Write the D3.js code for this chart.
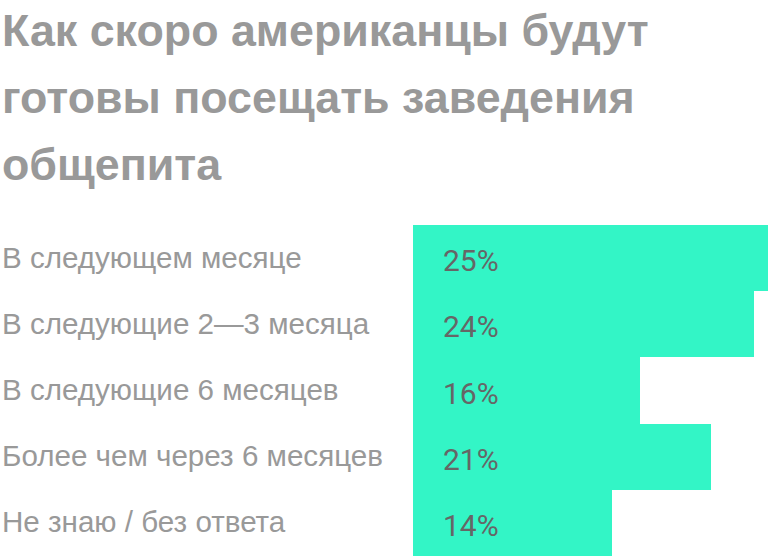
<!DOCTYPE html>
<html>
<head>
<meta charset="utf-8">
<script src="https://cdn.jsdelivr.net/npm/d3@7"></script>
<style>
  html, body { margin: 0; padding: 0; background: #ffffff; }
  svg { display: block; }
</style>
</head>
<body>
<script>
const titleLines = ["Как скоро американцы будут", "готовы посещать заведения", "общепита"];
const categories = ["В следующем месяце", "В следующие 2—3 месяца", "В следующие 6 месяцев", "Более чем через 6 месяцев", "Не знаю / без ответа"];
const values = [25, 24, 16, 21, 14];
const valueLabels = ["25%", "24%", "16%", "21%", "14%"];

const W = 768, H = 556;
const svg = d3.select("body").append("svg").attr("width", W).attr("height", H);

// Title
const titleBaselines = [46, 112.5, 179.5];
const title = svg.append("g").selectAll("text").data(titleLines).join("text")
  .attr("x", 2)
  .attr("y", (d, i) => titleBaselines[i])
  .attr("font-family", "'Liberation Sans', Arial, sans-serif")
  .attr("font-weight", 700)
  .attr("font-size", 36)
  .attr("fill", "#999999")
  .text(d => d);
const t0 = title.node().getComputedTextLength();
title.attr("font-size", 36 * 647 / t0);

// Scales
const x = d3.scaleLinear().domain([0, 25]).range([413, 768]);
const y = d3.scaleBand().domain(categories).range([225, 556]).padding(0);

// Bars
svg.append("g").attr("shape-rendering", "crispEdges")
  .selectAll("rect").data(categories).join("rect")
  .attr("x", x(0))
  .attr("y", d => Math.round(y(d)))
  .attr("width", (d, i) => x(values[i]) - x(0))
  .attr("height", d => Math.round(y(d) + y.bandwidth()) - Math.round(y(d)))
  .attr("fill", "#33f5c6");

// Category labels
const labels = svg.append("g").selectAll("text").data(categories).join("text")
  .attr("x", 2)
  .attr("y", d => y(d) + y.bandwidth() / 2 + 9.5)
  .attr("font-family", "'Liberation Sans', Arial, sans-serif")
  .attr("font-size", 25)
  .attr("fill", "#999999")
  .text(d => d);
const l3 = labels.nodes()[3].getComputedTextLength();
labels.attr("font-size", 25 * 381 / l3);

// Value labels
svg.append("g").selectAll("text").data(categories).join("text")
  .attr("x", x(0) + 30)
  .attr("y", d => y(d) + y.bandwidth() / 2 + 13)
  .attr("font-family", "Roboto, 'Liberation Sans', sans-serif")
  .attr("font-size", 30)
  .attr("fill", "#666666")
  .text((d, i) => valueLabels[i]);
</script>
</body>
</html>
